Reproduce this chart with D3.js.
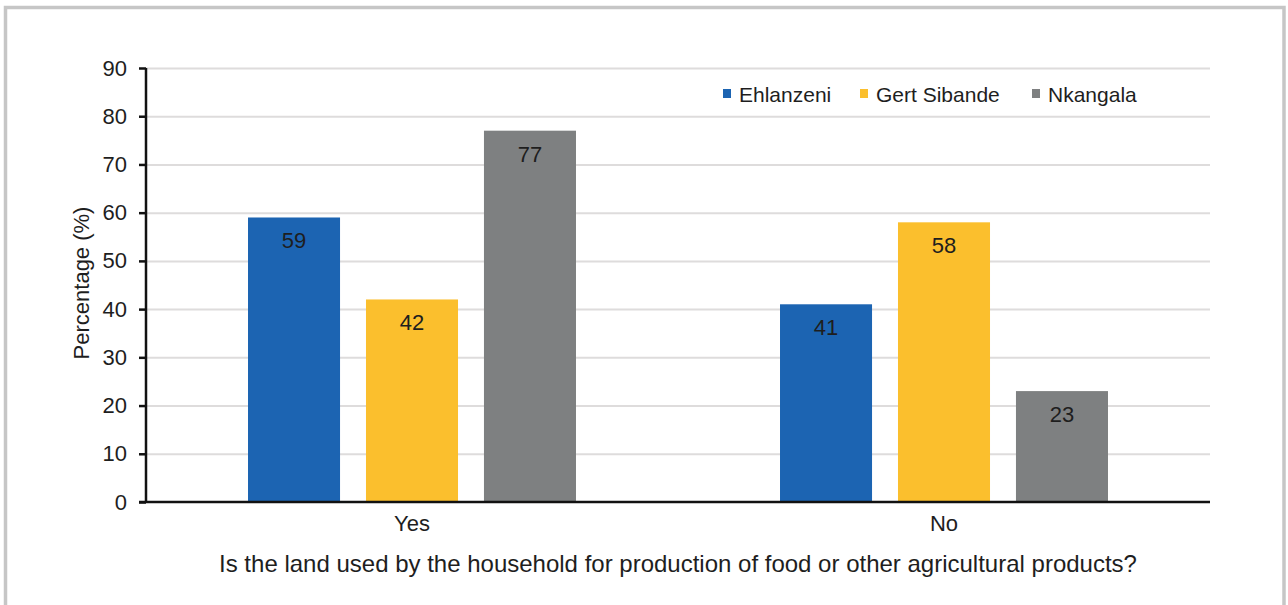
<!DOCTYPE html>
<html>
<head>
<meta charset="utf-8">
<script src="https://cdn.jsdelivr.net/npm/d3@7"></script>
<style>
  body { margin: 0; background: #fff; }
  svg { display: block; font-family: "Liberation Sans", Arial, sans-serif; }
  .grid line { stroke: #dedcdc; stroke-width: 2; }
  .grid path { display: none; }
</style>
</head>
<body>
<div id="chart"></div>
<script>
/* categories, series and tick values */
var categories = ["Yes", "No"];
var seriesNames = ["Ehlanzeni", "Gert Sibande", "Nkangala"];
var ehlanzeni = [59, 41];
var gertSibande = [42, 58];
var nkangala = [77, 23];
var yTicks = [0, 10, 20, 30, 40, 50, 60, 70, 80, 90];
var colors = ["#1c64b2", "#fbbf2d", "#7e8081"];

var seriesValues = [ehlanzeni, gertSibande, nkangala];

var W = 1288, H = 605;
var margin = {top: 68, right: 78, bottom: 103, left: 146},
    width = W - margin.left - margin.right,
    height = H - margin.top - margin.bottom;

var svg = d3.select("#chart").append("svg")
  .attr("width", W)
  .attr("height", H);

/* outer frame */
svg.append("rect")
  .attr("x", 5.5).attr("y", 7.5)
  .attr("width", 1278.5).attr("height", 610)
  .attr("fill", "none")
  .attr("stroke", "#c6c6c6")
  .attr("stroke-width", 3.5);

var g = svg.append("g")
  .attr("transform", "translate(" + margin.left + "," + margin.top + ")");

/* scales */
var x0 = d3.scaleBand()
  .domain(categories)
  .range([0, width])
  .paddingInner(0.3835)
  .paddingOuter(0.19175);

var x1 = d3.scaleBand()
  .domain(seriesNames)
  .range([0, x0.bandwidth()])
  .paddingInner(0.22);

var y = d3.scaleLinear()
  .domain([0, 90])
  .range([height, 0]);

/* gridlines */
g.append("g")
  .attr("class", "grid")
  .call(d3.axisLeft(y).tickValues(yTicks.slice(1)).tickSize(-width).tickFormat(""));

/* bars */
var groups = g.selectAll(".group")
  .data(categories)
  .enter().append("g")
  .attr("class", "group")
  .attr("transform", function(d) { return "translate(" + x0(d) + ",0)"; });

groups.selectAll("rect")
  .data(function(d, i) {
    return seriesNames.map(function(s, j) { return {name: s, value: seriesValues[j][i], k: j}; });
  })
  .enter().append("rect")
  .attr("x", function(d) { return x1(d.name); })
  .attr("y", function(d) { return y(d.value); })
  .attr("width", x1.bandwidth())
  .attr("height", function(d) { return height - y(d.value); })
  .attr("fill", function(d) { return colors[d.k]; });

groups.selectAll(".lbl")
  .data(function(d, i) {
    return seriesNames.map(function(s, j) { return {name: s, value: seriesValues[j][i]}; });
  })
  .enter().append("text")
  .attr("class", "lbl")
  .attr("x", function(d) { return x1(d.name) + x1.bandwidth() / 2; })
  .attr("y", function(d) { return y(d.value) + 31; })
  .attr("text-anchor", "middle")
  .style("font-size", "22px")
  .style("fill", "#1e1e1e")
  .text(function(d) { return d.value; });

/* y axis */
var yAxis = g.append("g")
  .call(d3.axisLeft(y).tickValues(yTicks).tickSize(7).tickPadding(12));
yAxis.select(".domain").attr("stroke", "#111").attr("stroke-width", 2.5)
  .attr("d", "M0," + height + "V0");
yAxis.selectAll(".tick line").attr("stroke", "#111").attr("stroke-width", 2.5);
yAxis.selectAll(".tick text").style("font-size", "22px").style("fill", "#1e1e1e");

/* x axis */
var xAxis = g.append("g")
  .attr("transform", "translate(0," + height + ")")
  .call(d3.axisBottom(x0).tickSize(0).tickPadding(13));
xAxis.select(".domain").attr("stroke", "#111").attr("stroke-width", 2.5)
  .attr("d", "M-7,0H" + width);
xAxis.selectAll(".tick text").style("font-size", "22px").style("fill", "#1e1e1e");

/* axis titles */
svg.append("text")
  .attr("transform", "translate(89," + (margin.top + height / 2 - 2) + ") rotate(-90)")
  .attr("text-anchor", "middle")
  .style("font-size", "22px")
  .style("fill", "#1e1e1e")
  .text("Percentage (%)");

svg.append("text")
  .attr("x", margin.left + width / 2)
  .attr("y", 572)
  .attr("text-anchor", "middle")
  .style("font-size", "24px")
  .style("fill", "#1e1e1e")
  .text("Is the land used by the household for production of food or other agricultural products?");

/* legend */
var legendX = [723, 860, 1032];
var legend = svg.selectAll(".legend")
  .data(seriesNames)
  .enter().append("g")
  .attr("class", "legend")
  .attr("transform", function(d, i) { return "translate(" + legendX[i] + ",89)"; });

legend.append("rect")
  .attr("width", 8).attr("height", 9)
  .attr("fill", function(d, i) { return colors[i]; });

legend.append("text")
  .attr("x", 16)
  .attr("y", 13)
  .style("font-size", "21px")
  .style("fill", "#1e1e1e")
  .text(function(d) { return d; });
</script>
</body>
</html>
